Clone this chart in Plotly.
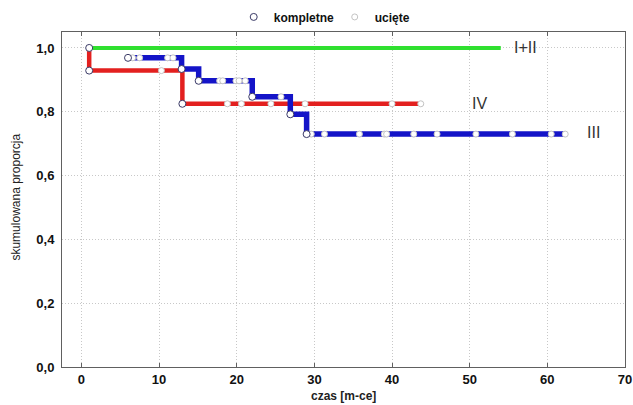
import numpy as np
import plotly.graph_objects as go

# ---- data ----
# group I+II
t_12 = [1, 54]
s_12 = [1.0, 1.0]
cens_12 = []
event_12 = []

# group III
t_3 = [6, 12.9, 15.1, 22.0, 26.9, 29.0, 62.3]
s_3 = [0.969, 0.934, 0.897, 0.847, 0.792, 0.730, 0.730]
event_3 = [6, 12.9, 15.1, 22.0, 26.9, 29.0]
cens_3 = [6.6, 7.5, 11.1, 11.8, 17.8, 18.2, 19.9, 20.3, 21.1, 25.7,
          29.6, 31.3, 35.8, 39.0, 39.3, 42.8, 45.8, 50.8, 55.5, 60.5, 62.3]

# group IV
t_4 = [1, 1, 13, 43.7]
s_4 = [1.0, 0.929, 0.825, 0.825]
event_4 = [1, 13]
cens_4 = [10.3, 18.8, 20.6, 24.4, 28.8, 40.0, 43.7]

group_names = ["I+II", "III", "IV"]
x_ticks = [0, 10, 20, 30, 40, 50, 60, 70]
y_ticks = [0.0, 0.2, 0.4, 0.6, 0.8, 1.0]
y_tick_text = ["0,0", "0,2", "0,4", "0,6", "0,8", "1,0"]


def step_val(t, s, x):
    t = np.asarray(t, float)
    s = np.asarray(s, float)
    idx = np.searchsorted(t, x, side="right") - 1
    idx = max(idx, 0)
    return float(s[idx])


RED = "#e3201f"
BLUE = "#1414c8"
GREEN = "#2fe02f"
FONT = "Liberation Sans, Arial, sans-serif"

fig = go.Figure()

# curves
fig.add_trace(go.Scatter(x=t_4, y=s_4, mode="lines", line=dict(color=RED, width=4.5, shape="hv"),
                         showlegend=False, hoverinfo="skip"))
fig.add_trace(go.Scatter(x=t_12, y=s_12, mode="lines", line=dict(color=GREEN, width=4, shape="hv"),
                         showlegend=False, hoverinfo="skip"))
fig.add_trace(go.Scatter(x=t_3, y=s_3, mode="lines", line=dict(color=BLUE, width=5.5, shape="hv"),
                         showlegend=False, hoverinfo="skip"))

# censored markers
cx, cy = [], []
for t, s, c in [(t_4, s_4, cens_4), (t_3, s_3, cens_3), (t_12, s_12, cens_12)]:
    for x in c:
        cx.append(x)
        cy.append(step_val(t, s, x))
fig.add_trace(go.Scatter(x=cx, y=cy, mode="markers", name="ucięte",
                         marker=dict(symbol="circle", size=6, color="white",
                                     line=dict(color="#c4c4c4", width=1))))

# complete (event) markers
ex, ey = [1], [1.0]
for t, s, e in [(t_4, s_4, event_4), (t_3, s_3, event_3), (t_12, s_12, event_12)]:
    for x in e:
        ex.append(x)
        ey.append(step_val(t, s, x))
fig.add_trace(go.Scatter(x=ex, y=ey, mode="markers", name="kompletne",
                         marker=dict(symbol="circle", size=7, color="white",
                                     line=dict(color="#3a3a66", width=1))))

# group labels
label_pos = [(55.4, 1.0), (64.9, 0.735), (50.1, 0.826)]
for name, (lx, ly) in zip(group_names, label_pos):
    fig.add_annotation(x=lx, y=ly, text=name, showarrow=False, xanchor="left", yanchor="middle",
                       font=dict(family=FONT, size=16, color="#333333"))

# axis titles
fig.add_annotation(x=0.5, y=-0.087, xref="paper", yref="paper", text="<b>czas [m-ce]</b>",
                   showarrow=False, xanchor="center", yanchor="middle",
                   font=dict(family=FONT, size=12, color="#222222"))
fig.add_annotation(x=-0.081, y=0.507, xref="paper", yref="paper", text="skumulowana proporcja",
                   textangle=-90, showarrow=False, xanchor="center", yanchor="middle",
                   font=dict(family=FONT, size=12, color="#222222"))

fig.update_xaxes(range=[-2.5, 70], tickvals=x_ticks, ticktext=[str(v) for v in x_ticks],
                 showgrid=True, gridcolor="#c8c8c8", griddash="1px,2px", gridwidth=1,
                 showline=True, linecolor="#606060", linewidth=1, mirror="ticks",
                 ticks="inside", ticklen=4, tickcolor="#606060", zeroline=False,
                 tickfont=dict(family=FONT, size=13, color="#111111", weight="bold"))
fig.update_yaxes(range=[0, 1.05], tickvals=y_ticks, ticktext=y_tick_text,
                 showgrid=True, gridcolor="#c8c8c8", griddash="1px,2px", gridwidth=1,
                 showline=True, linecolor="#606060", linewidth=1, mirror=True,
                 ticks="", zeroline=False, ticklabelstandoff=4,
                 tickfont=dict(family=FONT, size=13, color="#111111", weight="bold"))

fig.update_layout(
    width=633, height=405,
    margin=dict(l=62, r=8, t=32, b=38, autoexpand=False),
    paper_bgcolor="white", plot_bgcolor="white",
    legend=dict(orientation="h", x=0.305, y=1.045, xanchor="left", yanchor="middle",
                traceorder="reversed", itemwidth=30, entrywidth=56,
                font=dict(family=FONT, size=12, color="#111111", weight="bold"),
                bgcolor="rgba(0,0,0,0)"),
)

fig.write_html("out.html", config={"displayModeBar": False},
               post_script="document.body.style.margin='0';document.body.style.padding='0';")
